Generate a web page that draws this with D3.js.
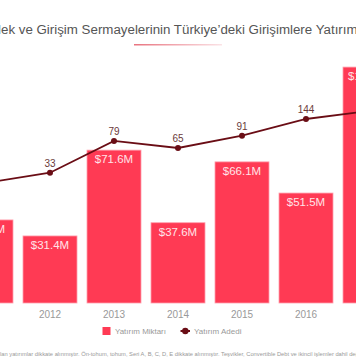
<!DOCTYPE html>
<html><head><meta charset="utf-8">
<script src="https://cdn.jsdelivr.net/npm/d3@7"></script>
<style>body{margin:0;background:#fff}svg{display:block}text{font-family:"Liberation Sans",Arial,sans-serif}</style>
</head><body>
<svg id="c" width="356" height="364"></svg>
<script>
const years = ['2011','2012','2013','2014','2015','2016','2017'];
const amounts = [38.9, 31.4, 71.6, 37.6, 66.1, 51.5, 110.5];
const amountLabels = ['$38.9M','$31.4M','$71.6M','$37.6M','$66.1M','$51.5M','$110.5M'];
const counts = [25, 33, 79, 65, 91, 144, 180];
const legendNames = ['Yatırım Miktarı','Yatırım Adedi'];
const title = 'Melek ve Girişim Sermayelerinin Türkiye’deki Girişimlere Yatırımları';
const note = 'Türkiye’de yerleşik girişimlere yapılan yatırımlar dikkate alınmıştır. Ön-tohum, tohum, Seri A, B, C, D, E dikkate alınmıştır. Teşvikler, Convertible Debt ve ikincil işlemler dahil değildir.';

const svg = d3.select('#c');
const barColor = '#ff3a54', lineColor = '#6a0d15';

const x = d3.scaleBand().domain(years).range([-46, -46 + 7*64]).paddingInner(10/64).paddingOuter(5/64);
const yBar = d3.scaleLinear().domain([0, 120]).range([303, 303 - 120*2.135]);
const yLine = d3.scaleLog().domain([10, 200]).range([216.3, 107.0]);

// fit helper: place text so that substring [from..to] spans from x0 to x1
function fitText(sel, str, from, to, x0, x1, baseFs) {
  sel.attr('font-size', baseFs).attr('x', 0);
  const n = sel.node();
  const i0 = Math.max(0, str.indexOf(from));
  const j = str.indexOf(to);
  const i1 = j < 0 ? str.length : j + to.length;
  const w = n.getSubStringLength(i0, i1 - i0);
  const fs = baseFs * (x1 - x0) / w;
  sel.attr('font-size', fs);
  sel.attr('x', x0 - (i0 > 0 ? n.getSubStringLength(0, i0) : 0));
}

// title
const defs = svg.append('defs');
const g = defs.append('linearGradient').attr('id','ul');
g.append('stop').attr('offset','0%').attr('stop-color','#e8737f');
g.append('stop').attr('offset','100%').attr('stop-color','#fbe3e6');
const tt = svg.append('text').attr('y',34).attr('fill','#555').text(title);
fitText(tt, title, 'ek ve', 'Yatırım', 1, 358, 13);
svg.append('rect').attr('x',134).attr('y',44).attr('width',88).attr('height',1.5).attr('fill','url(#ul)');

// bars
svg.append('g').selectAll('rect').data(years).join('rect')
  .attr('x', d => x(d)).attr('width', x.bandwidth())
  .attr('y', (d,i) => yBar(amounts[i])).attr('height', (d,i) => yBar(0) - yBar(amounts[i]))
  .attr('fill', barColor).attr('stroke','#ff9fac').attr('stroke-width',0.8);
svg.append('g').selectAll('text').data(years).join('text')
  .attr('x', d => x(d) + x.bandwidth()/2).attr('y', (d,i) => yBar(amounts[i]) + 13)
  .attr('text-anchor','middle').attr('font-size',11.5).attr('fill','#ffe4e8')
  .text((d,i) => amountLabels[i]);

// x axis labels
const ax = svg.append('g').attr('transform','translate(0,303)')
  .call(d3.axisBottom(x).tickSize(0).tickPadding(8));
ax.select('.domain').remove();
ax.selectAll('text').attr('font-size',10).attr('fill','#999').attr('font-family','"Liberation Sans",Arial,sans-serif');

// line
const cx = d => x(d) + x.bandwidth()/2;
const line = d3.line().x((d,i) => cx(years[i])).y(d => yLine(d));
svg.append('path').datum(counts).attr('d', line).attr('fill','none')
  .attr('stroke', lineColor).attr('stroke-width',1.8);
svg.append('g').selectAll('circle').data(counts).join('circle')
  .attr('cx',(d,i)=>cx(years[i])).attr('cy',d=>yLine(d)).attr('r',3).attr('fill',lineColor);
svg.append('g').selectAll('text').data(counts).join('text')
  .attr('x',(d,i)=>cx(years[i])).attr('y',d=>yLine(d)-6)
  .attr('text-anchor','middle').attr('font-size',10).attr('fill','#6b3a3a').text(d=>d);

// legend
const lg = svg.append('g').attr('fill','#999');
lg.append('rect').attr('x',102.5).attr('y',327).attr('width',8).attr('height',8).attr('fill',barColor);
const l1 = lg.append('text').attr('y',334).text(legendNames[0]);
fitText(l1, legendNames[0], legendNames[0], legendNames[0], 115, 166, 10);
lg.append('line').attr('x1',180.5).attr('x2',190).attr('y1',331).attr('y2',331).attr('stroke',lineColor).attr('stroke-width',2);
lg.append('circle').attr('cx',185.3).attr('cy',331).attr('r',3.2).attr('fill',lineColor);
const l2 = lg.append('text').attr('y',334).text(legendNames[1]);
fitText(l2, legendNames[1], legendNames[1], legendNames[1], 194, 241.5, 10);

// note
const nt = svg.append('text').attr('y',356).attr('fill','#999').text(note);
fitText(nt, note, 'lan yat', 'dahil de', 0, 356, 6.5);
</script>
</body></html>
